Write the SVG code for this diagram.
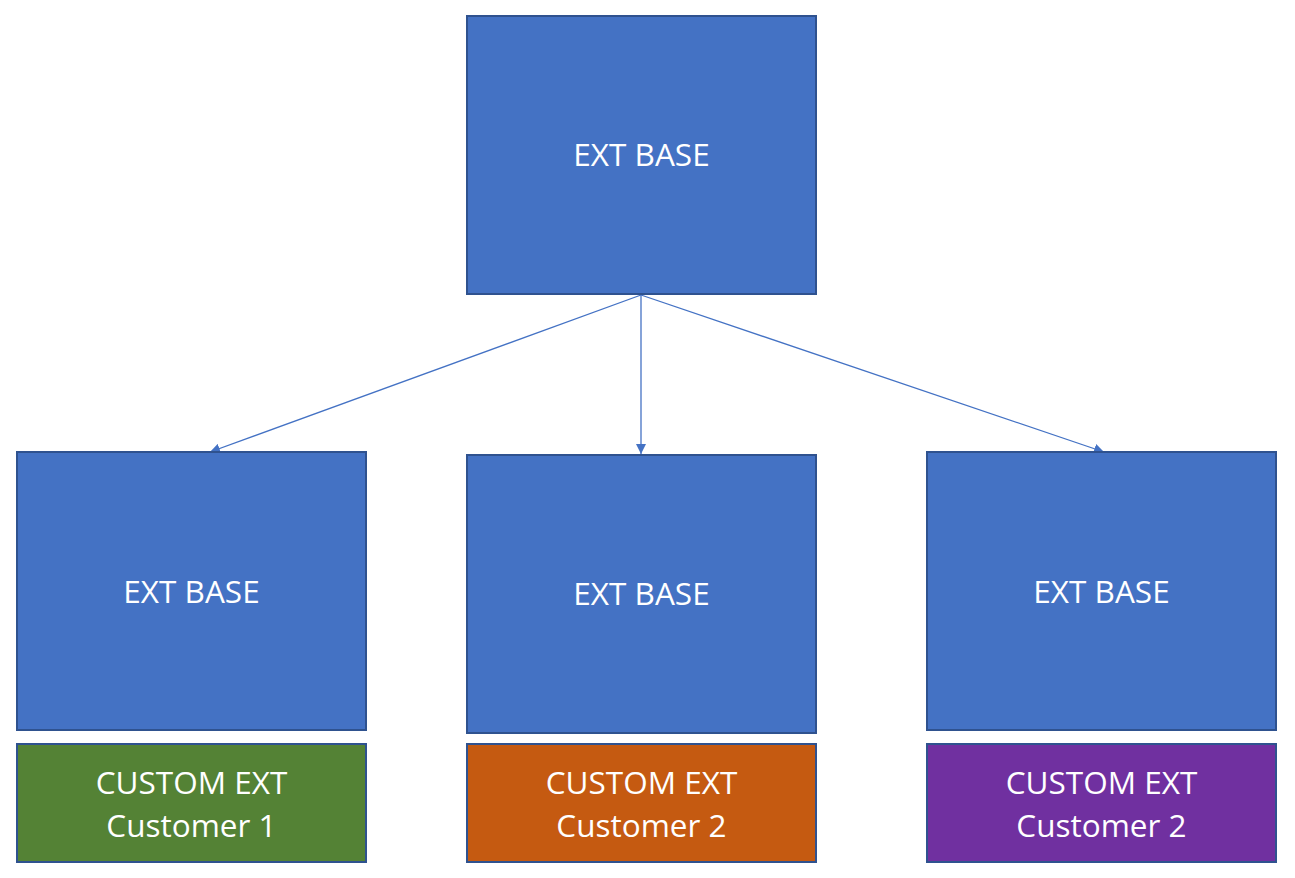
<svg xmlns="http://www.w3.org/2000/svg" width="1295" height="878" viewBox="0 0 1295 878">
<style>
.box{stroke:#2F528F;stroke-width:2}
.base{fill:#4472C4}
.t{font-family:"Open Sans","Liberation Sans",sans-serif;font-size:31.5px;fill:#fff;text-anchor:middle;dominant-baseline:central}
.c{stroke:#4472C4;stroke-width:1.3;fill:none;marker-end:url(#ah)}
</style>
<defs>
<marker id="ah" viewBox="0 0 10 10" refX="10" refY="5" markerWidth="10" markerHeight="10" markerUnits="userSpaceOnUse" orient="auto">
<path d="M0,0 L10,5 L0,10 z" fill="#4472C4"/>
</marker>
</defs>
<g id="connectors">
<line class="c" x1="641" y1="295" x2="210" y2="452"/>
<line class="c" x1="641" y1="295" x2="641" y2="454"/>
<line class="c" x1="641" y1="295" x2="1104" y2="452"/>
</g>
<g id="top">
<rect class="box base" x="467" y="16" width="349" height="278"/>
<text class="t" x="641.5" y="153.5">EXT BASE</text>
</g>
<g id="base1">
<rect class="box base" x="17" y="452" width="349" height="278"/>
<text class="t" x="191.5" y="590.5">EXT BASE</text>
</g>
<g id="base2">
<rect class="box base" x="467" y="455" width="349" height="278"/>
<text class="t" x="641.5" y="592.5">EXT BASE</text>
</g>
<g id="base3">
<rect class="box base" x="927" y="452" width="349" height="278"/>
<text class="t" x="1101.5" y="590.5">EXT BASE</text>
</g>
<g id="custom1">
<rect class="box" fill="#548235" x="17" y="744" width="349" height="118"/>
<text class="t" x="191.5" y="781">CUSTOM EXT</text>
<text class="t" x="191.5" y="824">Customer 1</text>
</g>
<g id="custom2">
<rect class="box" fill="#C55A11" x="467" y="744" width="349" height="118"/>
<text class="t" x="641.5" y="781">CUSTOM EXT</text>
<text class="t" x="641.5" y="824">Customer 2</text>
</g>
<g id="custom3">
<rect class="box" fill="#7030A0" x="927" y="744" width="349" height="118"/>
<text class="t" x="1101.5" y="781">CUSTOM EXT</text>
<text class="t" x="1101.5" y="824">Customer 2</text>
</g>
</svg>
